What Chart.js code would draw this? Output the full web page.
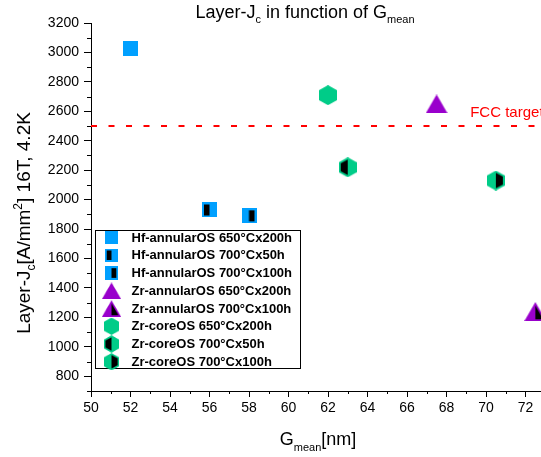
<!DOCTYPE html>
<html>
<head>
<meta charset="utf-8">
<script src="https://cdn.jsdelivr.net/npm/chart.js@4/dist/chart.umd.min.js"></script>
<style>
  html, body { margin: 0; padding: 0; background: #fff; overflow: hidden; }
  #wrap { width: 541px; height: 457px; overflow: hidden; }
</style>
</head>
<body>
<div id="wrap"><canvas id="jcChart" width="580" height="457"></canvas></div>
<script>
// ===== DATA =====
const seriesLabels = [
  'Hf-annularOS 650°Cx200h',
  'Hf-annularOS 700°Cx50h',
  'Hf-annularOS 700°Cx100h',
  'Zr-annularOS 650°Cx200h',
  'Zr-annularOS 700°Cx100h',
  'Zr-coreOS 650°Cx200h',
  'Zr-coreOS 700°Cx50h',
  'Zr-coreOS 700°Cx100h'
];
const gMean   = [52, 56, 58, 67.5, 72.5, 62, 63, 70.5];
const layerJc = [3030, 1930, 1890, 2650, 1240, 2710, 2220, 2130];
const fccTarget = 2500;
const fccLabel = 'FCC target';
const xRange = [50, 74];
const yRange = [700, 3200];

// ===== MARKER STYLES =====
const markerShape = ['square', 'square', 'square', 'triangle', 'triangle', 'hexagon', 'hexagon', 'hexagon'];
const markerHalf  = [null, 'left', 'right', null, 'right', null, 'left', 'right'];
const shapeColor  = { square: '#00A0FF', triangle: '#9900CC', hexagon: '#00CC88' };

const FONT = "'Liberation Sans', Arial, sans-serif";

function makeMarker(shape, half) {
  const c = document.createElement('canvas');
  let w = 15, h = 15, pts, cx, cy, k;
  if (shape === 'square') {
    pts = [[0, 0], [w, 0], [w, h], [0, h]]; cx = w / 2; cy = h / 2; k = (w - 4) / w;
  } else if (shape === 'triangle') {
    w = 22; h = 19;
    pts = [[w / 2, 0], [w, h], [0, h]]; cx = w / 2; cy = h * 2 / 3; k = 0.72;
  } else {
    w = 18; h = 20;
    pts = [[w / 2, 0], [w, h / 4], [w, h * 3 / 4], [w / 2, h], [0, h * 3 / 4], [0, h / 4]];
    cx = w / 2; cy = h / 2; k = 0.78;
  }
  c.width = w; c.height = h;
  const ctx = c.getContext('2d');
  const path = (s) => {
    ctx.beginPath();
    pts.forEach(([px, py], i) => {
      const x = cx + (px - cx) * s, y = cy + (py - cy) * s;
      i ? ctx.lineTo(x, y) : ctx.moveTo(x, y);
    });
    ctx.closePath();
  };
  ctx.fillStyle = shapeColor[shape];
  path(1);
  ctx.fill();
  if (half) {
    ctx.save();
    path(k);
    ctx.clip();
    ctx.fillStyle = '#000';
    ctx.fillRect(half === 'left' ? 0 : w / 2, 0, w / 2, h);
    ctx.restore();
  }
  return c;
}

const markers = markerShape.map((s, i) => makeMarker(s, markerHalf[i]));

// ===== RICH TEXT (sub / superscripts) =====
function drawRich(ctx, parts, x, y) {
  let total = 0;
  parts.forEach(p => {
    ctx.font = `${p.size}px ${FONT}`;
    p.w = ctx.measureText(p.t).width;
    total += p.w;
  });
  let cx = x - total / 2;
  parts.forEach(p => {
    ctx.font = `${p.size}px ${FONT}`;
    ctx.fillText(p.t, cx, y + (p.dy || 0));
    cx += p.w;
  });
}

const decorPlugin = {
  id: 'decor',
  afterDraw(chart) {
    const ctx = chart.ctx;
    const xs = chart.scales.x, ys = chart.scales.y;
    const area = chart.chartArea;
    ctx.save();

    // minor ticks
    ctx.strokeStyle = '#000';
    ctx.lineWidth = 1;
    ctx.beginPath();
    xs.ticks.forEach(t => {
      if (t.value % 2 !== 0) {
        const px = Math.round(xs.getPixelForValue(t.value)) + 0.5;
        ctx.moveTo(px, area.bottom);
        ctx.lineTo(px, area.bottom + 3);
      }
    });
    ys.ticks.forEach(t => {
      if (t.value % 200 !== 0) {
        const py = Math.round(ys.getPixelForValue(t.value)) + 0.5;
        ctx.moveTo(area.left - 4, py);
        ctx.lineTo(area.left, py);
      }
    });
    ctx.stroke();

    // FCC label
    ctx.fillStyle = '#FF0000';
    ctx.font = `15px ${FONT}`;
    ctx.textBaseline = 'alphabetic';
    ctx.textAlign = 'left';
    ctx.fillText(fccLabel, xs.getPixelForValue(69.2), ys.getPixelForValue(fccTarget) - 9);

    // titles
    ctx.fillStyle = '#000';
    drawRich(ctx, [
      { t: 'Layer-J', size: 18 }, { t: 'c', size: 11, dy: 5 },
      { t: ' in function of G', size: 18 }, { t: 'mean', size: 11, dy: 5 }
    ], 305, 18);
    drawRich(ctx, [
      { t: 'G', size: 18 }, { t: 'mean', size: 11, dy: 6 }, { t: '[nm]', size: 18 }
    ], 318, 445);
    ctx.save();
    ctx.translate(30, 223);
    ctx.rotate(-Math.PI / 2);
    drawRich(ctx, [
      { t: 'Layer-J', size: 19 }, { t: 'c', size: 12, dy: 5 },
      { t: '[A/mm', size: 19 }, { t: '2', size: 12, dy: -8 },
      { t: '] 16T, 4.2K', size: 19 }
    ], 0, 0);
    ctx.restore();

    // legend box
    const bx = 95.5, by = 230.5, bw = 205, bh = 138;
    ctx.fillStyle = '#fff';
    ctx.fillRect(bx, by, bw, bh);
    ctx.strokeStyle = '#000';
    ctx.strokeRect(bx, by, bw, bh);
    ctx.font = `bold 13px ${FONT}`;
    ctx.textBaseline = 'middle';
    ctx.fillStyle = '#000';
    seriesLabels.forEach((label, i) => {
      const cy = 237.5 + i * 17.75;
      const m = markers[i];
      const mw = m.width * 0.87, mh = m.height * 0.87;
      ctx.drawImage(m, 111.5 - mw / 2, cy - mh / 2, mw, mh);
      ctx.fillText(label, 131.5, cy + 0.5);
    });
    ctx.restore();
  }
};

// ===== DATASETS =====
const datasets = seriesLabels.map((label, i) => ({
  label,
  data: [{ x: gMean[i], y: layerJc[i] }],
  pointStyle: markers[i],
  pointRadius: 10,
  pointHoverRadius: 10
}));
datasets.push({
  label: fccLabel,
  data: [{ x: xRange[0], y: fccTarget }, { x: xRange[1], y: fccTarget }],
  showLine: true,
  borderColor: '#FF0000',
  borderWidth: 2,
  borderDash: [6, 11.5],
  pointRadius: 0
});

new Chart(document.getElementById('jcChart').getContext('2d'), {
  type: 'scatter',
  data: { datasets },
  options: {
    responsive: false,
    animation: false,
    layout: { padding: { top: 23, left: 0, right: 15, bottom: 0 } },
    plugins: { legend: { display: false }, tooltip: { enabled: false } },
    scales: {
      x: {
        type: 'linear', min: xRange[0], max: xRange[1],
        afterFit: s => { s.height = 66; },
        border: { display: true, color: '#000', width: 1 },
        grid: {
          drawOnChartArea: false, tickLength: 6,
          tickColor: c => (c.tick && c.tick.value % 2 === 0 ? '#000' : 'rgba(0,0,0,0)')
        },
        ticks: {
          stepSize: 1, autoSkip: false, maxRotation: 0, padding: 3,
          color: '#000', font: { family: FONT, size: 14 },
          callback: v => (v % 2 === 0 ? v : '')
        }
      },
      y: {
        type: 'linear', min: yRange[0], max: yRange[1],
        afterFit: s => { s.width = 91; },
        border: { display: true, color: '#000', width: 1 },
        grid: {
          drawOnChartArea: false, tickLength: 7,
          tickColor: c => (c.tick && c.tick.value % 200 === 0 ? '#000' : 'rgba(0,0,0,0)')
        },
        ticks: {
          stepSize: 100, autoSkip: false, padding: 5,
          color: '#000', font: { family: FONT, size: 14 },
          callback: v => (v % 200 === 0 ? v : '')
        }
      }
    }
  },
  plugins: [decorPlugin]
});
</script>
</body>
</html>
